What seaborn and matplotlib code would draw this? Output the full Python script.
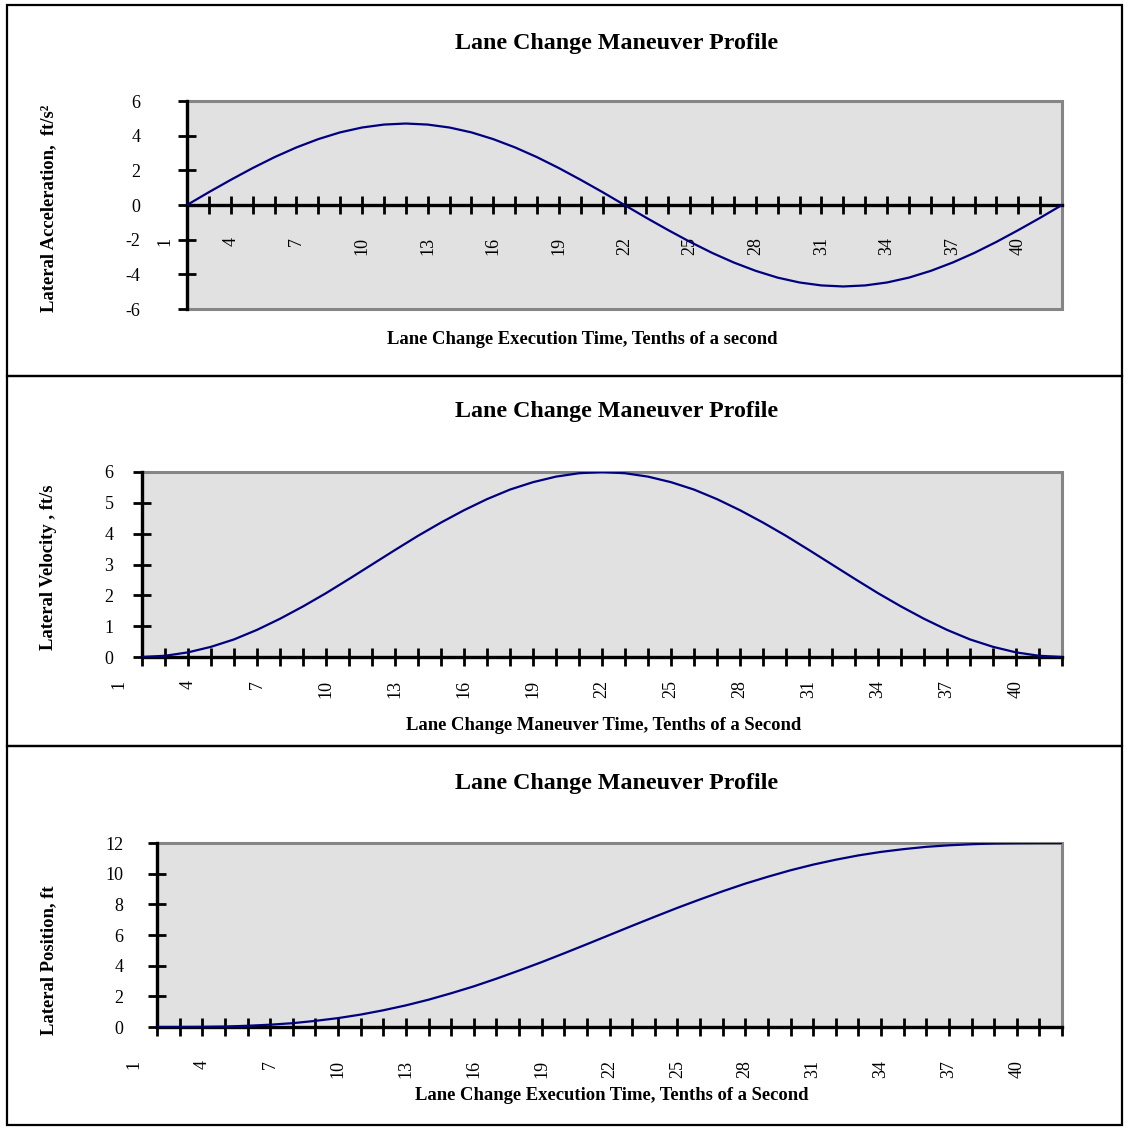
import numpy as np
import pandas as pd
import matplotlib
matplotlib.use("Agg")
import matplotlib.pyplot as plt
from matplotlib.patches import Rectangle
import seaborn as sns

sns.set_style("white")
plt.rcParams["font.family"] = ["Liberation Serif", "DejaVu Serif"]
plt.rcParams["text.color"] = "black"
plt.rcParams["axes.labelcolor"] = "black"
plt.rcParams["xtick.color"] = "black"
plt.rcParams["ytick.color"] = "black"

# Time steps (tenths of a second) covered by each profile
steps = list(range(2, 43))

accel = [0.00, 0.74, 1.45, 2.13, 2.76, 3.32, 3.80, 4.19, 4.47, 4.64, 4.70,
         4.64, 4.47, 4.19, 3.80, 3.32, 2.76, 2.13, 1.45, 0.74, 0.00,
         -0.74, -1.45, -2.13, -2.76, -3.32, -3.80, -4.19, -4.47, -4.64, -4.70,
         -4.64, -4.47, -4.19, -3.80, -3.32, -2.76, -2.13, -1.45, -0.74, 0.00]

velocity = [0.00, 0.04, 0.15, 0.33, 0.57, 0.88, 1.24, 1.64, 2.07, 2.53, 3.00,
            3.47, 3.93, 4.36, 4.76, 5.12, 5.43, 5.67, 5.85, 5.96, 6.00,
            5.96, 5.85, 5.67, 5.43, 5.12, 4.76, 4.36, 3.93, 3.47, 3.00,
            2.53, 2.07, 1.64, 1.24, 0.88, 0.57, 0.33, 0.15, 0.04, 0.00]

position = [0.00, 0.00, 0.01, 0.03, 0.08, 0.15, 0.25, 0.40, 0.58, 0.81, 1.09,
            1.41, 1.78, 2.20, 2.65, 3.15, 3.68, 4.23, 4.81, 5.40, 6.00,
            6.60, 7.19, 7.77, 8.32, 8.85, 9.35, 9.80, 10.22, 10.59, 10.91,
            11.19, 11.42, 11.60, 11.75, 11.85, 11.92, 11.97, 11.99, 12.00, 12.00]

tick_labels = [1, 4, 7, 10, 13, 16, 19, 22, 25, 28, 31, 34, 37, 40]

title = "Lane Change Maneuver Profile"
x_titles = ["Lane Change Execution Time, Tenths of a second",
            "Lane Change Maneuver Time, Tenths of a Second",
            "Lane Change Execution Time, Tenths of a Second"]
y_titles = ["Lateral Acceleration,  ft/s\u00b2",
            "Lateral Velocity , ft/s",
            "Lateral Position, ft"]

W, H = 1128, 1129
fig = plt.figure(figsize=(W / 100, H / 100), dpi=100)


def fx(px):
    return px / W


def fy(py):
    return 1 - py / H


# outer panel frames: (top, bottom) in pixels
frames = [(5, 376), (376, 746), (746, 1125)]
for top, bot in frames:
    fig.add_artist(Rectangle((fx(7), fy(bot)), fx(1122) - fx(7), fy(top) - fy(bot),
                             transform=fig.transFigure, fill=False,
                             edgecolor="black", linewidth=1.6))

panels = [
    dict(data=accel, box=(187, 101, 1062, 309), ylim=(-6, 6), yticks=np.arange(-6, 7, 2),
         ypad=27, lab_off=23, title_y=43, xt=(582, 340), yt=(49, 208)),
    dict(data=velocity, box=(142, 472, 1062, 657), ylim=(0, 6), yticks=np.arange(0, 7, 1),
         ypad=14, lab_off=16.5, title_y=412, xt=(604, 725), yt=(49, 567)),
    dict(data=position, box=(157, 843, 1062, 1027), ylim=(0, 12), yticks=np.arange(0, 13, 2),
         ypad=17.5, lab_off=23.5, title_y=783, xt=(612, 1095), yt=(49, 960)),
]

for i, p in enumerate(panels):
    l, t, r, b = p["box"]
    ax = fig.add_axes([fx(l), fy(b), fx(r) - fx(l), fy(t) - fy(b)])
    ax.set_facecolor("#e1e1e1")
    df = pd.DataFrame({"step": steps, "value": p["data"]})
    sns.lineplot(data=df, x="step", y="value", ax=ax, color="#000080",
                 linewidth=1.6, zorder=5)
    ax.set_xlim(2, 42)
    ax.set_ylim(*p["ylim"])
    ax.set_xlabel("")
    ax.set_ylabel("")

    # gray plot-area border
    ax.add_patch(Rectangle((0, 0), 1, 1, transform=ax.transAxes, fill=False,
                           edgecolor="#858585", linewidth=2.2, zorder=1, clip_on=False))
    for s in ["top", "right"]:
        ax.spines[s].set_visible(False)
    for s in ["left", "bottom"]:
        ax.spines[s].set_color("black")
        ax.spines[s].set_linewidth(2.4)
        ax.spines[s].set_zorder(4)
    ax.spines["bottom"].set_position(("data", 0))

    ax.set_xticks(steps)
    ax.set_xticklabels([])
    ax.set_yticks(p["yticks"])
    ax.set_yticklabels([f"{v:g}" for v in p["yticks"]], fontsize=13)
    ax.tick_params(axis="both", which="major", direction="inout", length=13, width=2,
                   color="black", bottom=True, left=True, top=False, right=False,
                   labelcolor="black")
    ax.tick_params(axis="y", pad=p["ypad"])
    for tk in ax.xaxis.get_major_ticks() + ax.yaxis.get_major_ticks():
        tk.tick1line.set_zorder(6)

    # rotated category labels below the axis line
    for v in tick_labels:
        ax.annotate(str(v), xy=(v, 0), xycoords="data",
                    xytext=(0, -p["lab_off"]), textcoords="offset points",
                    rotation=90, ha="center", va="top", fontsize=13,
                    color="black", annotation_clip=False)

    fig.text(fx(617), fy(p["title_y"]), title, ha="center", va="center",
             fontsize=17.3, fontweight="bold", color="black")
    fig.text(fx(p["xt"][0]), fy(p["xt"][1]), x_titles[i], ha="center", va="center",
             fontsize=13.4, fontweight="bold", color="black")
    fig.text(fx(p["yt"][0]), fy(p["yt"][1]), y_titles[i], ha="center", va="center",
             rotation=90, fontsize=13.4, fontweight="bold", color="black")

fig.savefig("out.png", dpi=100)
